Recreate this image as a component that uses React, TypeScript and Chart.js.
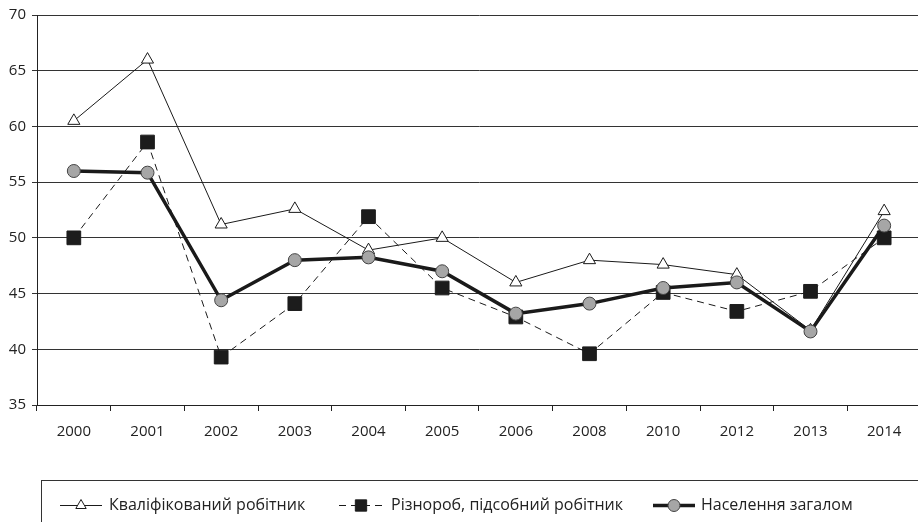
import React, { useEffect, useRef } from "react";
import { Chart, registerables } from "chart.js";

Chart.register(...registerables);

const years = ["2000", "2001", "2002", "2003", "2004", "2005", "2006", "2008", "2010", "2012", "2013", "2014"];
const skilled = [60.5, 66.0, 51.2, 52.6, 48.9, 50.0, 46.0, 48.0, 47.6, 46.7, 41.7, 52.4];
const unskilled = [50.0, 58.6, 39.3, 44.1, 51.9, 45.5, 42.9, 39.6, 45.1, 43.4, 45.2, 50.0];
const population = [56.0, 55.85, 44.4, 48.0, 48.25, 47.0, 43.2, 44.1, 45.5, 46.0, 41.6, 51.1];
const seriesLabels = ["Кваліфікований робітник", "Різнороб, підсобний робітник", "Населення загалом"];
const yMin = 35;
const yMax = 70;
const yStep = 5;

const TICK_FONT = "Open Sans";
const LEGEND_FONT = "Open Sans";

function drawMarker(ctx: CanvasRenderingContext2D, style: string, x: number, y: number, r: number, fill: string, stroke: string) {
  ctx.beginPath();
  if (style === "triangle") {
    ctx.moveTo(x, y - r);
    ctx.lineTo(x + r * Math.sin((2 * Math.PI) / 3), y - r * Math.cos((2 * Math.PI) / 3));
    ctx.lineTo(x + r * Math.sin((4 * Math.PI) / 3), y - r * Math.cos((4 * Math.PI) / 3));
    ctx.closePath();
  } else if (style === "rect") {
    const s = r * Math.SQRT1_2;
    ctx.rect(x - s, y - s, 2 * s, 2 * s);
  } else {
    ctx.arc(x, y, r, 0, Math.PI * 2);
  }
  ctx.fillStyle = fill;
  ctx.fill();
  ctx.lineWidth = 1;
  ctx.strokeStyle = stroke;
  ctx.setLineDash([]);
  ctx.stroke();
}

const legendItems = [
  { x0: 60, x1: 102, tx: 109, r: 6 },
  { x0: 339, x1: 383, tx: 391, r: 8 },
  { x0: 653, x1: 695, tx: 701, r: 6 },
];

const boxLegend = {
  id: "boxLegend",
  afterDraw(chart: any) {
    const ctx: CanvasRenderingContext2D = chart.ctx;
    ctx.save();
    ctx.strokeStyle = "#333";
    ctx.lineWidth = 1;
    ctx.setLineDash([]);
    ctx.strokeRect(41.5, 480.5, 1000, 100);
    const cy = 505.5;
    chart.data.datasets.forEach((ds: any, i: number) => {
      const it = legendItems[i];
      ctx.beginPath();
      ctx.setLineDash(ds.borderDash || []);
      ctx.lineWidth = ds.borderWidth;
      ctx.strokeStyle = ds.borderColor;
      ctx.moveTo(it.x0, cy);
      ctx.lineTo(it.x1, cy);
      ctx.stroke();
      drawMarker(ctx, ds.pointStyle, (it.x0 + it.x1) / 2, cy, it.r, ds.pointBackgroundColor, ds.pointBorderColor);
      ctx.fillStyle = "#222";
      ctx.font = `16px "${LEGEND_FONT}"`;
      ctx.textBaseline = "middle";
      ctx.textAlign = "left";
      ctx.fillText(ds.label, it.tx, cy);
    });
    ctx.restore();
  },
};

export default function App() {
  const ref = useRef<HTMLCanvasElement | null>(null);
  useEffect(() => {
    if (!ref.current) return;
    const chart = new Chart(ref.current, {
      type: "line",
      data: {
        labels: years,
        datasets: [
          {
            label: seriesLabels[0],
            data: skilled,
            borderColor: "#1a1a1a",
            borderWidth: 1,
            pointStyle: "triangle",
            pointRadius: 7,
            pointBackgroundColor: "#ffffff",
            pointBorderColor: "#1a1a1a",
            pointBorderWidth: 1,
            order: 3,
          },
          {
            label: seriesLabels[1],
            data: unskilled,
            borderColor: "#1a1a1a",
            borderWidth: 1,
            borderDash: [7, 5],
            pointStyle: "rect",
            pointRadius: 9.7,
            pointBackgroundColor: "#1c1c1c",
            pointBorderColor: "#1c1c1c",
            pointBorderWidth: 1,
            order: 2,
          },
          {
            label: seriesLabels[2],
            data: population,
            borderColor: "#1a1a1a",
            borderWidth: 3.5,
            pointStyle: "circle",
            pointRadius: 6.5,
            pointBackgroundColor: "#a6a6a6",
            pointBorderColor: "#444",
            pointBorderWidth: 1,
            order: 1,
          },
        ] as any,
      },
      options: {
        responsive: false,
        animation: false,
        devicePixelRatio: 1,
        layout: { autoPadding: false, padding: { top: 15, right: 0, left: 0, bottom: 0 } },
        plugins: { legend: { display: false }, tooltip: { enabled: false } },
        elements: { line: { tension: 0 } },
        scales: {
          x: {
            offset: true,
            grid: { display: true, drawOnChartArea: false, drawTicks: true, tickLength: 6, offset: true, color: "#222" },
            border: { display: true, color: "#222", width: 1 },
            ticks: { color: "#222", font: { family: TICK_FONT, size: 15 }, padding: 12, maxRotation: 0, autoSkip: false },
            afterFit: (s: any) => {
              s.height = 117;
              s.paddingRight = 0;
              s.paddingLeft = 0;
            },
          },
          y: {
            min: yMin,
            max: yMax,
            grid: { color: "#333", lineWidth: 1, drawTicks: true, tickLength: 5 },
            border: { display: true, color: "#222", width: 1 },
            ticks: { stepSize: yStep, color: "#222", font: { family: TICK_FONT, size: 15 }, padding: 6 },
            afterFit: (s: any) => { s.width = 37; },
          },
        },
      } as any,
      plugins: [boxLegend],
    });
    return () => chart.destroy();
  }, []);
  return (
    <div style={{ position: "absolute", left: 0, top: 0, width: 918, height: 522, overflow: "hidden", background: "#fff" }}>
      <canvas ref={ref} width={921} height={522} style={{ display: "block" }} />
    </div>
  );
}
